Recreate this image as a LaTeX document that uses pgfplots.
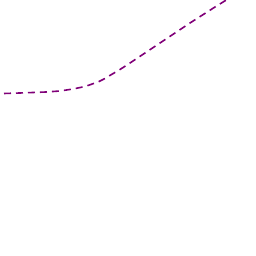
\documentclass[border=0pt]{standalone}
\usepackage{pgfplots}
\pgfplotsset{compat=1.18}
\definecolor{linepurple}{RGB}{128,0,120}
\begin{document}
\begin{tikzpicture}
\begin{axis}[
  scale only axis, width=256pt, height=256pt,
  xmin=0, xmax=256, ymin=0, ymax=256,
  hide axis, clip=true,
]
\addplot[draw=none, forget plot] coordinates {(0,0) (256,256)};
\addplot[linepurple, line width=1.6pt, dash pattern=on 7pt off 5pt, mark=none] coordinates {
(4,162.5) (20,163) (33,163.5) (46,164) (60,165) (73,167) (85,169.5) (98,174)
(104,177) (109,180) (120,186.5) (130,193) (160,213) (190,233) (215,249) (232,259.5)
};
\end{axis}
\end{tikzpicture}
\end{document}
